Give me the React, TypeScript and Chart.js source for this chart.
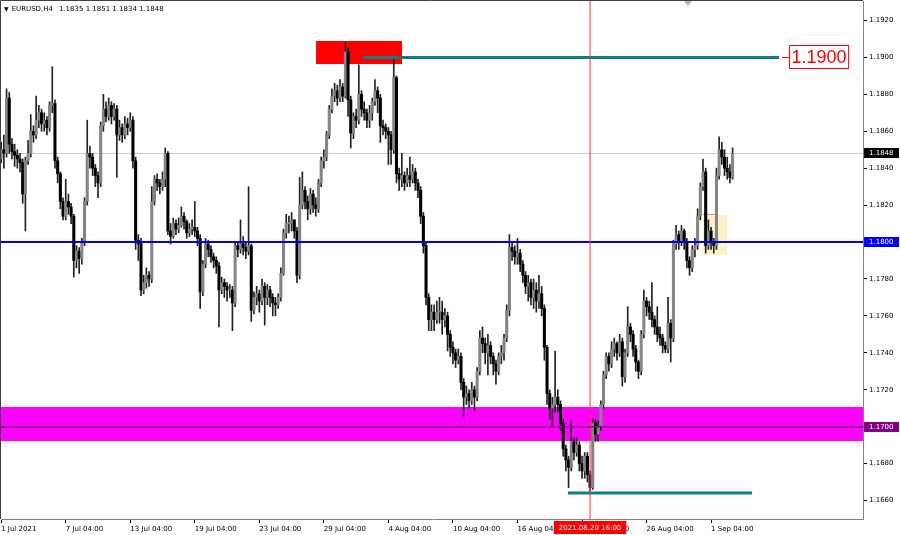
import React, { useEffect, useRef } from 'react';
import { Chart, registerables } from 'chart.js';

Chart.register(...registerables);

// EURUSD H4 candles. Prices are stored in pips above 1.1600 (1 pip = 0.0001).
// Bar index 0 = 1 Jul 2021 00:00; the first visible candle is bar 1.
const PRICE_BASE = 1.16;
const PIP = 0.0001;
const FIRST_BAR = 1;
const FIRST_OPEN = 245;

const CLOSES = [
  250,248,278,253,249,247,245,243,226,244,248,260,
  258,266,270,264,266,262,274,275,244,237,222,214,
  222,219,214,190,195,191,200,222,248,246,240,236,
  232,263,272,268,274,268,272,258,262,258,264,262,
  266,244,201,199,174,178,182,180,222,234,232,230,
  234,248,206,203,210,207,209,214,211,205,207,208,
  206,202,173,188,199,196,192,190,187,174,178,176,
  174,174,167,198,196,199,197,195,198,163,170,172,
  168,176,170,174,170,167,166,170,183,205,210,210,
  212,206,182,220,
  228,222,218,226,220,218,232,244,246,258,272,279,
  282,278,284,279,303,277,259,268,266,280,272,270,
  266,270,276,282,278,263,262,260,258,250,289,237,
  234,236,232,236,234,238,232,228,214,198,170,158,
  162,158,162,162,158,160,150,143,140,136,138,124,
  116,118,114,120,116,130,148,145,140,144,138,134,
  130,138,140,148,163,197,195,192,194,188,182,176,
  178,170,174,168,172,164,143,118,110,112,116,112,
  102,88,82,78,92,86,90,80,76,84,74,67,
  102,96,100,112,128,138,134,142,145,140,146,127,
  140,154,150,142,135,130,150,168,165,162,158,154,
  150,148,144,142,156,148,199,204,200,206,200,190,
  186,196,198,214,230,238,198,206,200,198,236,250,
  246,240,238,235,248
];

const HIGHS = [
  254,258,283,281,256,253,250,248,245,246,255,269,
  263,279,274,272,270,268,276,295,277,246,238,224,
  234,226,221,215,198,197,202,224,266,252,248,242,
  238,265,280,276,278,276,275,274,266,264,268,267,
  270,268,246,204,202,182,186,184,230,236,237,234,
  238,251,249,210,213,212,213,219,216,212,210,212,
  222,208,204,190,202,201,198,194,192,189,181,180,
  178,177,176,200,200,212,203,200,230,199,173,176,
  174,180,178,177,176,172,170,172,186,207,215,214,
  216,212,208,235,
  238,230,225,229,228,224,234,246,250,260,274,283,
  286,285,288,286,308,305,279,270,272,296,282,276,
  272,274,278,288,284,280,266,264,262,260,300,290,
  240,248,238,240,246,242,240,234,230,216,200,172,
  166,166,168,170,168,164,162,152,146,142,142,140,
  126,122,120,124,122,132,152,154,148,150,146,140,
  136,140,144,150,166,204,200,198,202,196,190,184,
  182,180,180,178,182,176,166,144,120,116,141,120,
  114,104,90,84,103,94,94,92,84,86,86,76,
  104,104,103,114,130,140,140,146,148,146,150,148,
  142,165,156,152,144,136,152,174,170,168,178,160,
  165,154,150,146,170,158,201,209,206,209,207,202,
  192,198,202,218,232,245,240,212,208,202,240,257,
  254,250,246,242,251
];

const LOWS = [
  243,240,246,248,245,241,240,238,221,206,242,246,
  254,256,262,260,260,258,260,270,240,232,218,212,
  212,215,210,181,186,183,188,198,220,240,236,230,
  224,230,260,265,266,264,266,235,255,254,256,258,
  260,240,196,190,171,172,175,176,178,220,228,226,
  228,230,204,199,202,204,205,208,207,202,203,204,
  203,198,164,171,186,192,189,186,183,154,172,170,
  168,170,152,165,192,194,193,191,193,157,161,166,
  162,166,155,166,165,160,160,164,168,182,202,205,
  206,202,178,180,
  218,218,212,215,216,214,216,230,240,244,256,270,
  276,274,276,276,278,268,251,256,262,264,268,266,
  262,262,266,274,270,254,258,256,242,242,248,232,
  228,230,228,230,230,232,228,224,210,194,166,152,
  152,152,156,156,150,154,141,138,134,132,134,120,
  105,112,110,112,108,114,128,140,134,128,134,128,
  123,128,134,136,146,160,190,188,188,184,178,172,
  168,166,164,162,164,160,136,112,104,100,108,108,
  98,84,76,67,76,82,84,76,72,72,70,65,
  66,92,92,98,110,126,130,132,138,136,138,122,
  124,138,146,138,130,126,128,148,160,158,154,150,
  146,144,140,140,140,135,146,196,196,198,196,186,
  182,184,192,196,212,228,194,196,196,194,196,234,
  242,236,234,232,234
];

const X_TICK_BARS = [1, 25, 49, 73, 97, 121, 145, 169, 193, 217, 241, 265];
const X_TICK_LABELS = [
  '1 Jul 2021', '7 Jul 04:00', '13 Jul 04:00', '19 Jul 04:00', '23 Jul 04:00',
  '29 Jul 04:00', '4 Aug 04:00', '10 Aug 04:00', '16 Aug 04:00', '20 Aug 04:00',
  '26 Aug 04:00', '1 Sep 04:00'
];
const Y_TICKS = [1.166, 1.168, 1.170, 1.172, 1.174, 1.176, 1.178, 1.180, 1.182, 1.184, 1.186, 1.188, 1.190, 1.192];

const HEADER_SYMBOL = 'EURUSD,H4';
const HEADER_OHLC = [1.1835, 1.1851, 1.1834, 1.1848];
const BID_PRICE = 1.1848;
const LEVEL_BLUE = 1.18;
const LEVEL_PURPLE = 1.17;
const ZONE_MAGENTA = [1.16922, 1.17107];
const RED_BOX_BARS = [118.1, 150.1];
const RED_BOX_PRICES = [1.18964, 1.19089];
const TOP_LINE_BARS = [135.5, 290.3];
const TOP_LINE_PRICE = 1.19;
const TOP_LABEL_BAR = 294;
const TOP_LABEL_TEXT = '1.1900';
const BOTTOM_LINE_BARS = [211.8, 280.2];
const BOTTOM_LINE_PRICE = 1.1664;
const YELLOW_BOX_BARS = [262, 270.9];
const YELLOW_BOX_PRICES = [1.1793, 1.18147];
const RED_MARK_BARS = [262, 267.6];
const RED_MARK_PRICES = [1.18125, 1.18152];
const CURSOR_BAR = 220;
const CURSOR_LABEL = '2021.08.20 16:00';
const SHIFT_MARK_BAR = 256.4;

const X_MIN = 0.93;
const X_MAX = 321.5;
const Y_MIN = 1.164998;
const Y_MAX = 1.193056;

const price = (p: number) => +(PRICE_BASE + p * PIP).toFixed(5);

const FONT = 'DejaVu Sans';

const overlayPlugin = {
  id: 'mtOverlay',
  afterDraw(chart: any) {
    const { ctx, chartArea, scales } = chart;
    const xs = scales.x;
    const ys = scales.y;
    ctx.save();
    // plot frame (left / top)
    ctx.strokeStyle = '#404040';
    ctx.lineWidth = 1;
    ctx.beginPath();
    ctx.moveTo(chartArea.left - 0.5, chartArea.bottom);
    ctx.lineTo(chartArea.left - 0.5, chartArea.top - 0.5);
    ctx.lineTo(chartArea.right, chartArea.top - 0.5);
    ctx.stroke();

    // right axis price labels
    const axisLabels: [number, string][] = [
      [BID_PRICE, '#000000'],
      [LEVEL_BLUE, '#0000ff'],
      [LEVEL_PURPLE, '#800080'],
    ];
    ctx.font = `7px "${FONT}"`;
    ctx.textBaseline = 'middle';
    ctx.textAlign = 'left';
    for (const [p, col] of axisLabels) {
      const y = ys.getPixelForValue(p);
      ctx.fillStyle = col;
      ctx.fillRect(chartArea.right + 1, Math.round(y) - 5, 35, 10);
      ctx.fillStyle = '#ffffff';
      ctx.fillText(p.toFixed(4), chartArea.right + 6, Math.round(y) + 0.5);
    }

    // bottom cursor date label
    const cx = xs.getPixelForValue(CURSOR_BAR);
    ctx.font = `7px "${FONT}"`;
    const tw = ctx.measureText(CURSOR_LABEL).width;
    ctx.fillStyle = '#ff0000';
    ctx.fillRect(cx - tw / 2 - 5, chartArea.bottom + 2, tw + 10, 13);
    ctx.fillStyle = '#ffffff';
    ctx.textAlign = 'center';
    ctx.fillText(CURSOR_LABEL, cx, chartArea.bottom + 9);

    // 1.1900 price label on chart
    const ly = ys.getPixelForValue(TOP_LINE_PRICE);
    const lx = xs.getPixelForValue(TOP_LABEL_BAR);
    ctx.font = `18px "Liberation Sans"`;
    const lw = ctx.measureText(TOP_LABEL_TEXT).width;
    ctx.fillStyle = '#ffffff';
    ctx.fillRect(lx, ly - 12, lw + 5, 24);
    ctx.strokeStyle = '#ff0000';
    ctx.lineWidth = 1;
    ctx.strokeRect(lx + 0.5, Math.round(ly) - 11.5, lw + 4, 23);
    ctx.beginPath();
    ctx.moveTo(lx - 7, Math.round(ly) + 0.5);
    ctx.lineTo(lx, Math.round(ly) + 0.5);
    ctx.stroke();
    ctx.fillStyle = '#ff0000';
    ctx.textAlign = 'left';
    ctx.textBaseline = 'middle';
    ctx.fillText(TOP_LABEL_TEXT, lx + 2.5, ly + 1);

    // chart shift marker
    const sx = xs.getPixelForValue(SHIFT_MARK_BAR);
    ctx.fillStyle = '#b0b0b0';
    ctx.beginPath();
    ctx.moveTo(sx - 4, chartArea.top);
    ctx.lineTo(sx + 4, chartArea.top);
    ctx.lineTo(sx, chartArea.top + 5);
    ctx.closePath();
    ctx.fill();
    ctx.restore();
  },
};

function App() {
  const canvasRef = useRef<HTMLCanvasElement | null>(null);

  useEffect(() => {
    const canvas = canvasRef.current;
    if (!canvas) return;
    const opens = CLOSES.map((c, i) => (i === 0 ? FIRST_OPEN : CLOSES[i - 1]));
    const wicks = CLOSES.map((c, i) => ({
      x: FIRST_BAR + i,
      y: [price(Math.min(LOWS[i], opens[i], c)), price(Math.max(HIGHS[i], opens[i], c))],
    }));
    const bodies = CLOSES.map((c, i) => ({ x: FIRST_BAR + i, y: [price(opens[i]), price(c)] }));
    const bodyColors = CLOSES.map((c, i) => (c >= opens[i] ? '#858585' : '#000000'));

    const rect = (bx: number[], py: number[], color: string) => ({
      type: 'line' as const,
      data: [{ x: bx[0], y: py[1] }, { x: bx[1], y: py[1] }],
      fill: { value: py[0] },
      backgroundColor: color,
      borderWidth: 0,
      pointRadius: 0,
      order: 10,
    });
    const hline = (bx: number[], y: number, color: string, width: number, order = 1) => ({
      type: 'line' as const,
      data: [{ x: bx[0], y }, { x: bx[1], y }],
      borderColor: color,
      borderWidth: width,
      pointRadius: 0,
      fill: false,
      order,
    });

    const chart = new Chart(canvas, {
      type: 'bar',
      data: {
        datasets: [
          rect([X_MIN - 1, X_MAX + 1], ZONE_MAGENTA, '#ff00ff'),
          rect(RED_BOX_BARS, RED_BOX_PRICES, '#ff0000'),
          rect(YELLOW_BOX_BARS, YELLOW_BOX_PRICES, '#fcf2c6'),
          rect(RED_MARK_BARS, RED_MARK_PRICES, '#f2756e'),
          hline([X_MIN - 1, X_MAX + 1], BID_PRICE, '#c8c8c8', 1, 8),
          {
            type: 'bar' as const,
            data: wicks as any,
            backgroundColor: '#222222',
            barThickness: 1,
            grouped: false,
            order: 6,
          },
          {
            type: 'bar' as const,
            data: bodies as any,
            backgroundColor: bodyColors,
            barThickness: 2.4,
            minBarLength: 1,
            grouped: false,
            order: 5,
          },
          hline([X_MIN - 1, X_MAX + 1], LEVEL_PURPLE, '#7a0a7a', 1.5, 2),
          hline([X_MIN - 1, X_MAX + 1], LEVEL_BLUE, '#0000ee', 2, 1),
          hline(TOP_LINE_BARS, TOP_LINE_PRICE, '#0a8080', 3, 1),
          hline(BOTTOM_LINE_BARS, BOTTOM_LINE_PRICE, '#0a8080', 3, 1),
          {
            type: 'line' as const,
            data: [{ x: CURSOR_BAR, y: Y_MIN }, { x: CURSOR_BAR, y: Y_MAX }],
            borderColor: '#ff3030',
            borderWidth: 1,
            pointRadius: 0,
            fill: false,
            order: 0,
          },
        ] as any,
      },
      options: {
        animation: false,
        responsive: false,
        maintainAspectRatio: false,
        layout: { padding: { left: 1, top: 1, right: 0, bottom: 0 } },
        plugins: {
          legend: { display: false },
          tooltip: { enabled: false },
          title: { display: false },
          filler: { drawTime: 'beforeDatasetsDraw' },
        } as any,
        scales: {
          x: {
            type: 'linear',
            min: X_MIN,
            max: X_MAX,
            offset: false,
            grid: { drawOnChartArea: false, drawTicks: true, tickLength: 4, color: '#000000', offset: false },
            border: { display: true, color: '#808080' },
            afterBuildTicks: (s: any) => {
              s.ticks = X_TICK_BARS.map((v) => ({ value: v }));
            },
            afterFit: (s: any) => {
              s.height = 16;
              s.paddingLeft = 0;
              s.paddingRight = 0;
            },
            ticks: {
              autoSkip: false,
              maxRotation: 0,
              minRotation: 0,
              align: 'start',
              padding: 2,
              color: '#000000',
              font: { family: FONT, size: 7 },
              callback: (v: any) => {
                const i = X_TICK_BARS.indexOf(Number(v));
                return i >= 0 ? X_TICK_LABELS[i] : '';
              },
            },
          },
          y: {
            type: 'linear',
            position: 'right',
            min: Y_MIN,
            max: Y_MAX,
            grid: { drawOnChartArea: false, drawTicks: true, tickLength: 4, color: '#000000' },
            border: { display: true, color: '#808080' },
            afterBuildTicks: (s: any) => {
              s.ticks = Y_TICKS.map((v) => ({ value: v }));
            },
            afterFit: (s: any) => {
              s.width = 37;
              s.paddingTop = 0;
              s.paddingBottom = 0;
            },
            ticks: {
              padding: 2,
              color: '#000000',
              font: { family: FONT, size: 7 },
              callback: (v: any) => Number(v).toFixed(4),
            },
          },
        } as any,
      },
      plugins: [overlayPlugin],
    });
    return () => chart.destroy();
  }, []);

  return (
    <div style={{ position: 'fixed', left: 0, top: 0, width: 900, height: 535, background: '#ffffff' }}>
      <canvas ref={canvasRef} width={900} height={535} style={{ display: 'block', width: 900, height: 535 }} />
      <div
        style={{
          position: 'absolute',
          left: 4,
          top: 4,
          fontFamily: FONT,
          fontSize: 7,
          lineHeight: '10px',
          color: '#000',
          whiteSpace: 'pre',
        }}
      >
        <span style={{ fontSize: 6 }}>▼</span>
        <span style={{ marginLeft: 3 }}>{HEADER_SYMBOL}</span>
        <span style={{ marginLeft: 6 }}>{HEADER_OHLC.map((v) => v.toFixed(4)).join(' ')}</span>
      </div>
    </div>
  );
}

export default App;
